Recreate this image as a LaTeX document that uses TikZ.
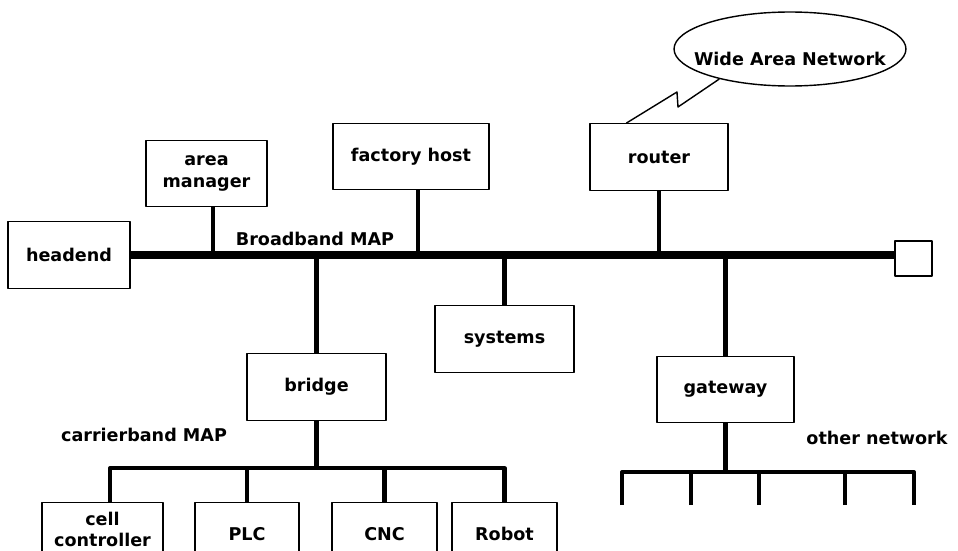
\documentclass[tikz,border=0pt]{standalone}
\usepackage{fontspec}
\setmainfont{DejaVu Sans}
\usetikzlibrary{shapes.geometric}
\begin{document}
\begin{tikzpicture}[x=0.02cm,y=-0.02cm,font=\bfseries,line join=round,
	unit/.style={draw,line width=0.7pt,inner sep=0pt,minimum height=1.33cm,align=center},
	bus/.style={line width=4pt},
	tap/.style={line width=2.6pt},
	sub/.style={line width=2.3pt}]
	\useasboundingbox (0,0) rectangle (958,551);
	\clip (0,0) rectangle (958,551);
	% Broadband MAP
	\node[unit,minimum width=2.44cm] (he) at (69,255) {headend};
	\node[unit,minimum width=2.42cm] (am) at (206.5,173.5) {area\\manager};
	\node[unit,minimum width=3.12cm] (fh) at (411,156.5) {factory host};
	\node[unit,minimum width=2.76cm] (rt) at (659,157) {router};
	\node[draw,line width=0.7pt,inner sep=0pt,minimum width=0.74cm,minimum height=0.7cm] (tm) at (913.5,258.5) {};
	\node[unit,minimum width=2.78cm] (sy) at (504.5,339) {systems};
	\node[unit,minimum width=2.78cm] (br) at (316.5,387) {bridge};
	\node[unit,minimum width=2.74cm] (gw) at (725.5,389.5) {gateway};
	\node[ellipse,draw,line width=0.8pt,inner sep=0pt,minimum width=4.64cm,minimum height=1.48cm,
		text height=19pt,text depth=0pt] (wan) at (790,49) {\makebox[0pt]{Wide Area Network}};
	\node (bbm) at (315,239) {Broadband MAP};
	\draw[bus] (he.east) -- (he.east -| tm.west);
	\coordinate (tam) at (213,255);
	\coordinate (tfh) at (418,255);
	\draw[tap] (tam) -- (tam |- am.south);
	\draw[tap] (tfh) -- (tfh |- fh.south);
	\draw[tap] (rt.south) -- (rt.south |- he.east);
	\foreach \n in {sy,br,gw}
	\draw[tap] (\n.north) -- (\n.north |- he.east);
	\coordinate (za) at (677,92);
	\coordinate (zb) at (678,107);
	\draw[line width=0.8pt] (rt.134) -- (za) -- (zb) -- (wan.203);
	% carrierband MAP
	\foreach \n/\x/\w/\h/\t in {cc/102.5/2.42/1.08/{cell\\controller},pl/247/2.08/1.24/PLC,cn/384.5/2.1/1.24/CNC,rb/504.5/2.1/1.24/Robot}
	\node[unit,minimum width=\w cm,minimum height=\h cm,anchor=north] (\n) at (\x,502) {\t};
	\node (cbm) at (144,435) {carrierband MAP};
	\coordinate (cbl) at (110,468);
	\draw[tap] (br.south) -- (br.south |- cbl);
	\draw[sub] (cbl |- cc.north) -- (cbl) -- (cbl -| rb.north) -- (rb.north);
	\foreach \n in {pl,cn}
	\draw[sub] (\n.north) -- (\n.north |- cbl);
	% other network
	\node (onm) at (877,438) {other network};
	\coordinate (onl) at (622,472);
	\coordinate (onr) at (914,472);
	\coordinate (onb) at (0,505);
	\draw[tap] (gw.south) -- (gw.south |- onl);
	\draw[sub] (onl |- onb) -- (onl) -- (onr) -- (onr |- onb);
	\foreach \t [count=\i] in {691,759,845} {
		\coordinate (od\i) at (\t,505);
		\draw[sub] (od\i) -- (od\i |- onl);
	}
\end{tikzpicture}
\end{document}
